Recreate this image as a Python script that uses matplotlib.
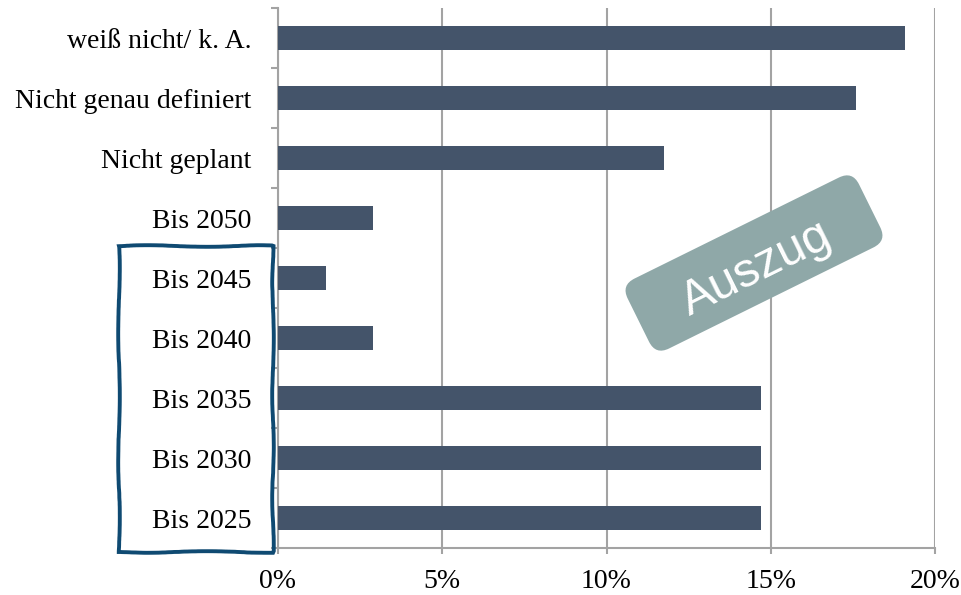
#!/usr/bin/env python3
# Horizontal bar chart: planned target year, with a hand-drawn box and "Auszug" stamp.

import matplotlib
matplotlib.use('Agg')
import matplotlib.pyplot as plt
from matplotlib.patches import FancyBboxPatch, Rectangle
from matplotlib.transforms import Affine2D, IdentityTransform
from matplotlib.ticker import FuncFormatter, MultipleLocator

# Data, bottom to top as drawn.

categories = ['Bis 2025', 'Bis 2030', 'Bis 2035', 'Bis 2040', 'Bis 2045',
              'Bis 2050', 'Nicht geplant', 'Nicht genau definiert', 'weiß nicht/ k. A.']
shares = [14.7, 14.7, 14.7, 2.9, 1.45, 2.9, 11.75, 17.6, 19.1]

bar_color = '#44546a'
grid_color = '#a3a3a3'
box_color = '#0f4a72'
stamp_color = '#8fa8a8'

plt.rcParams['font.family'] = ['Liberation Serif', 'DejaVu Serif']

W, H = 961, 595
fig = plt.figure(figsize=(W / 100, H / 100), dpi=100)
ax = fig.add_axes([278 / W, (H - 548) / H, (935 - 278) / W, 540 / H])

ypos = list(range(len(categories)))
ax.barh(ypos, shares, height=0.4, color=bar_color, zorder=3)

ax.set_xlim(0, 20)
ax.set_ylim(-0.5, len(categories) - 0.5)
ax.xaxis.set_major_locator(MultipleLocator(5))
ax.xaxis.set_major_formatter(FuncFormatter(lambda v, p: '%d%%' % v))
ax.grid(axis='x', color=grid_color, linewidth=1.5, zorder=0)

ax.set_yticks(ypos)
ax.set_yticklabels(categories)
ax.set_yticks([y - 0.5 for y in ypos] + [len(categories) - 0.5], minor=True)
ax.tick_params(axis='y', which='major', length=0, pad=19, labelsize=20)
ax.tick_params(axis='y', which='minor', length=5, width=1.5, color=grid_color)
ax.tick_params(axis='x', which='major', length=4, width=1.5, color=grid_color,
               pad=11, labelsize=20)

for side in ['top', 'right']:
    ax.spines[side].set_visible(False)
for side in ['left', 'bottom']:
    ax.spines[side].set_color(grid_color)
    ax.spines[side].set_linewidth(1.5)

# Hand-drawn box around the years 2025-2045 (pixel coordinates, y from bottom).

box = Rectangle((119, H - 552), 273 - 119, 552 - 246, fill=False,
                edgecolor=box_color, linewidth=2.8, transform=IdentityTransform(),
                zorder=10)
box.set_sketch_params(scale=0.8, length=160, randomness=4)
fig.add_artist(box)

# Rotated "Auszug" stamp.

cx, cy = 754, H - 263
angle = 26.3
sw, sh = 258, 78
stamp = FancyBboxPatch((cx - sw / 2, cy - sh / 2), sw, sh,
                       boxstyle='round,pad=0,rounding_size=15',
                       facecolor=stamp_color, edgecolor='none',
                       transform=Affine2D().rotate_deg_around(cx, cy, angle) + IdentityTransform(),
                       zorder=11)
fig.add_artist(stamp)
fig.text((cx + 2) / W, (cy - 6) / H, 'Auszug', rotation=angle, rotation_mode='anchor',
         ha='center', va='center', color='white', fontsize=35,
         family=['Liberation Sans', 'DejaVu Sans'], zorder=12)

plt.savefig('out.png', dpi=100)
